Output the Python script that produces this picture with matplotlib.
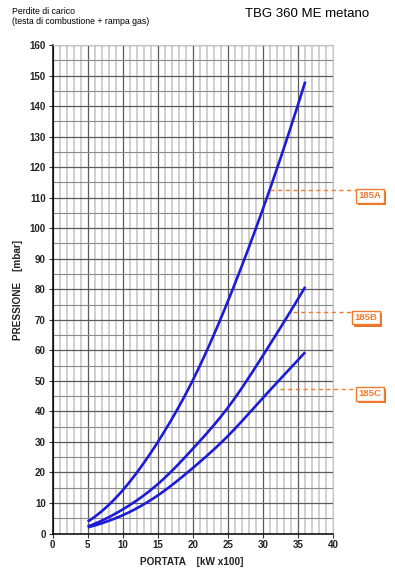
import numpy as np
import matplotlib
matplotlib.use("Agg")
import matplotlib.pyplot as plt
import matplotlib.patheffects as pe

# ---- data ----
portata = [5, 10, 15, 20, 25, 30, 36]
curve_185A = [3.9, 14.2, 30.0, 50.3, 76.2, 106.5, 148.0]
curve_185B = [2.3, 7.9, 16.2, 27.8, 41.3, 58.4, 80.8]
curve_185C = [2.0, 6.0, 12.5, 21.5, 32.0, 44.5, 59.4]
labels = ["185A", "185B", "185C"]
label_levels = [112.5, 72.4, 47.4]
label_start = [31.0, 34.3, 32.4]
xticks = [0, 5, 10, 15, 20, 25, 30, 35, 40]
yticks = list(range(0, 161, 10))

plt.rcParams['font.family'] = ['Liberation Sans', 'DejaVu Sans']


def smooth(xs, ys, n=200):
    # natural cubic spline through the read points, in log-log space
    x = np.log(np.asarray(xs, float))
    y = np.log(np.asarray(ys, float))
    m = len(x)
    h = np.diff(x)
    A = np.zeros((m, m)); r = np.zeros(m)
    A[0, 0] = A[-1, -1] = 1
    for i in range(1, m - 1):
        A[i, i - 1] = h[i - 1]; A[i, i] = 2 * (h[i - 1] + h[i]); A[i, i + 1] = h[i]
        r[i] = 6 * ((y[i + 1] - y[i]) / h[i] - (y[i] - y[i - 1]) / h[i - 1])
    M = np.linalg.solve(A, r)
    gx = np.linspace(xs[0], xs[-1], n)
    lg = np.log(gx)
    idx = np.clip(np.searchsorted(x, lg) - 1, 0, m - 2)
    x0, x1 = x[idx], x[idx + 1]; hh = x1 - x0
    a = (x1 - lg) / hh; b = (lg - x0) / hh
    gy = a * y[idx] + b * y[idx + 1] + ((a ** 3 - a) * M[idx] + (b ** 3 - b) * M[idx + 1]) * hh ** 2 / 6
    return gx, np.exp(gy)


fig = plt.figure(figsize=(3.95, 5.70), dpi=100)
ax = fig.add_axes([0.1332, 0.064, 0.7106, 0.857])
ax.set_xlim(0, 40)
ax.set_ylim(0, 160)

# grid
for xv in range(0, 41):
    if xv % 5 == 0:
        ax.axvline(xv, color='#5a5a5a', lw=0.9, zorder=1)
    else:
        ax.axvline(xv, color='#c8c8c8', lw=1.2, zorder=0.5)
for yv in range(0, 161, 5):
    if yv % 10 == 0:
        ax.axhline(yv, color='#5a5a5a', lw=0.9, zorder=1)
    else:
        ax.axhline(yv, color='#8a8a8a', lw=0.8, zorder=1)

for ys in (curve_185A, curve_185B, curve_185C):
    sx, sy = smooth(portata, ys)
    ax.plot(sx, sy, color='#1c1cd6', lw=1.9, zorder=3, solid_capstyle='butt')

ax.set_xticks(xticks)
ax.set_yticks(yticks)
ax.tick_params(axis='both', labelsize=7, length=3, width=0.8, color='#333333', pad=2)
for lab in ax.get_xticklabels() + ax.get_yticklabels():
    lab.set_fontweight('bold')
    lab.set_color('#222222')
for s in ('top', 'right'):
    ax.spines[s].set_color('#c4c4c4')
    ax.spines[s].set_linewidth(0.8)
for s in ('left', 'bottom'):
    ax.spines[s].set_color('black')
    ax.spines[s].set_linewidth(1.1)

orange = '#f07a30'
box_x = [357 / 395, 353 / 395, 357 / 395]
box_y_off = [-0.010, -0.009, -0.009]
for lab, lev, xs0, bx, boff in zip(labels, label_levels, label_start, box_x, box_y_off):
    ax.plot([xs0, 43.6 if lab != "185B" else 43.0], [lev, lev], color=orange, lw=1.0,
            ls=(0, (3, 2.5)), clip_on=False, zorder=4)
    yfig = ax.transData.transform((0, lev))
    yf = fig.transFigure.inverted().transform(yfig)[1] + boff
    t = fig.text(bx + 0.004, yf, lab, fontsize=6.8, fontweight='bold', color=orange,
                 ha='left', va='center',
                 bbox=dict(boxstyle='square,pad=0.25', fc='white', ec=orange, lw=1.0))
    t.get_bbox_patch().set_path_effects([
        pe.SimplePatchShadow(offset=(1.6, -1.6), shadow_rgbFace='#e8732a', alpha=1.0),
        pe.Normal()])

fig.text(18 / 395, 1 - 290 / 570, "PRESSIONE    [mbar]", rotation=90, fontsize=7.2,
         fontweight='bold', ha='center', va='center', color='#222222')
fig.text(192 / 395, 1 - 562 / 570, "PORTATA    [kW x100]", fontsize=7.2,
         fontweight='bold', ha='center', va='center', color='#222222')
fig.text(12 / 395, 1 - 11 / 570, "Perdite di carico", fontsize=6.3, ha='left', va='center')
fig.text(12 / 395, 1 - 21 / 570, "(testa di combustione + rampa gas)", fontsize=6.3,
         ha='left', va='center')
fig.text(245 / 395, 1 - 14 / 570, "TBG 360 ME metano", fontsize=9.5, ha='left', va='center')

fig.savefig("out.png", dpi=100)
